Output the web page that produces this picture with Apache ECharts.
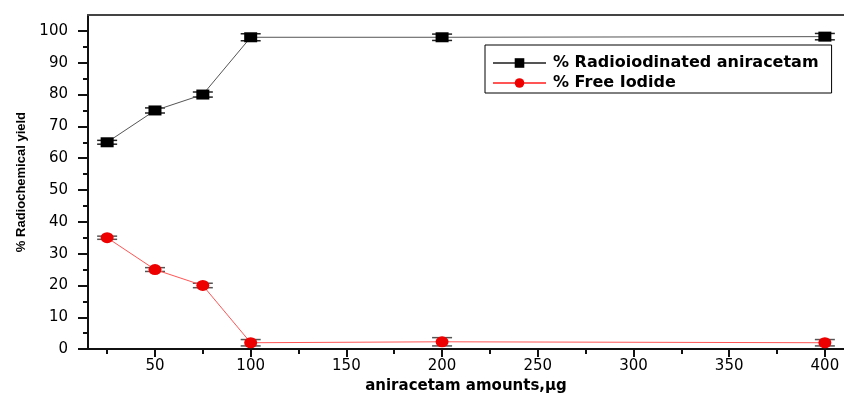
<!DOCTYPE html>
<html>
<head>
<meta charset="utf-8">
<script src="https://cdn.jsdelivr.net/npm/echarts@6/dist/echarts.min.js"></script>
<style>
  html, body { margin: 0; padding: 0; background: #fff; }
  #main { width: 844px; height: 399px; }
</style>
</head>
<body>
<div id="main"></div>
<script>
// aniracetam amount (µg)
var amounts = [25, 50, 75, 100, 200, 400];
// % radioiodinated aniracetam and its error
var labeled = [65, 75, 80, 98, 98, 98.2];
var labeledErr = [0.6, 0.8, 0.8, 1.1, 1.0, 1.0];
// % free iodide and its error
var freeIodide = [35, 25, 20, 2, 2.3, 2];
var freeErr = [0.5, 0.6, 0.7, 1.0, 1.3, 1.0];

var xMajor = [50, 100, 150, 200, 250, 300, 350, 400];
var xMinor = [25, 75, 125, 175, 225, 275, 325, 375];
var yMajor = [0, 10, 20, 30, 40, 50, 60, 70, 80, 90, 100];
var yMinor = [5, 15, 25, 35, 45, 55, 65, 75, 85, 95];

function pairs(xs, ys) {
  return xs.map(function (x, i) { return [x, ys[i]]; });
}
function errData(xs, ys, es) {
  return xs.map(function (x, i) { return [x, ys[i], es[i]]; });
}

function errorBar(color) {
  return function (params, api) {
    var x = api.value(0), y = api.value(1), e = api.value(2);
    var hi = api.coord([x, y + e]);
    var lo = api.coord([x, y - e]);
    var w = 10;
    var st = { stroke: color, lineWidth: 1.5 };
    return {
      type: 'group',
      children: [
        { type: 'line', shape: { x1: hi[0], y1: hi[1], x2: lo[0], y2: lo[1] }, style: st },
        { type: 'line', shape: { x1: hi[0] - w, y1: hi[1], x2: hi[0] + w, y2: hi[1] }, style: st },
        { type: 'line', shape: { x1: lo[0] - w, y1: lo[1], x2: lo[0] + w, y2: lo[1] }, style: st }
      ]
    };
  };
}

var font = 'DejaVu Sans';
var chart = echarts.init(document.getElementById('main'));
var option = {
  animation: false,
  backgroundColor: '#fff',
  grid: { left: 88, right: 0, top: 15, bottom: 49 },
  legend: {
    data: ['% Radioiodinated aniracetam', '% Free Iodide'],
    orient: 'vertical',
    left: 485,
    top: 45,
    padding: [9, 13, 1, 7],
    itemGap: 2,
    itemWidth: 53,
    itemHeight: 12,
    borderColor: '#000',
    borderWidth: 1,
    textStyle: { fontFamily: font, fontWeight: 'bold', fontSize: 16, lineHeight: 18, color: '#000', padding: [0, 0, 0, 2] }
  },
  xAxis: [
    {
      type: 'value', min: 15, max: 410, position: 'bottom',
      name: 'aniracetam amounts,µg', nameLocation: 'middle', nameGap: 28,
      nameTextStyle: { fontFamily: font, fontWeight: 'bold', fontSize: 15, color: '#000' },
      axisLine: { lineStyle: { color: '#111', width: 2 } },
      axisTick: { customValues: xMajor, length: 8, lineStyle: { color: '#111', width: 2 } },
      axisLabel: { customValues: xMajor, margin: 10, fontFamily: font, fontSize: 15, color: '#000' },
      splitLine: { show: false }
    },
    {
      type: 'value', min: 15, max: 410, position: 'bottom',
      axisLine: { show: false },
      axisTick: { customValues: xMinor, length: 5, lineStyle: { color: '#111', width: 2 } },
      axisLabel: { show: false },
      splitLine: { show: false }
    },
    {
      type: 'value', min: 15, max: 410, position: 'top',
      axisLine: { lineStyle: { color: '#444', width: 2 } },
      axisTick: { show: false },
      axisLabel: { show: false },
      splitLine: { show: false }
    }
  ],
  yAxis: [
    {
      type: 'value', min: 0, max: 105, position: 'left',
      name: '% Radiochemical yield', nameLocation: 'middle', nameGap: 60,
      nameTextStyle: { fontFamily: 'Liberation Sans', fontWeight: 'bold', fontSize: 13, color: '#000' },
      axisLine: { show: true, lineStyle: { color: '#111', width: 2 } },
      axisTick: { customValues: yMajor, length: 10, lineStyle: { color: '#111', width: 2 } },
      axisLabel: { customValues: yMajor, margin: 20, fontFamily: font, fontSize: 15, color: '#000' },
      splitLine: { show: false }
    },
    {
      type: 'value', min: 0, max: 105, position: 'left',
      axisLine: { show: false },
      axisTick: { customValues: yMinor, length: 5, lineStyle: { color: '#111', width: 2 } },
      axisLabel: { show: false },
      splitLine: { show: false }
    }
  ],
  series: [
    {
      name: 'labeledErr', type: 'custom', xAxisIndex: 0, yAxisIndex: 0, z: 3,
      renderItem: errorBar('#222'),
      data: errData(amounts, labeled, labeledErr)
    },
    {
      name: 'freeErr', type: 'custom', xAxisIndex: 0, yAxisIndex: 0, z: 3,
      renderItem: errorBar('#555'),
      data: errData(amounts, freeIodide, freeErr)
    },
    {
      name: '% Radioiodinated aniracetam', type: 'line', xAxisIndex: 0, yAxisIndex: 0, z: 4,
      data: pairs(amounts, labeled),
      symbol: 'rect', symbolSize: [13, 10],
      itemStyle: { color: '#000' },
      lineStyle: { color: '#555', width: 1 }
    },
    {
      name: '% Free Iodide', type: 'line', xAxisIndex: 0, yAxisIndex: 0, z: 4,
      data: pairs(amounts, freeIodide),
      symbol: 'circle', symbolSize: [13, 11],
      itemStyle: { color: '#ee0000' },
      lineStyle: { color: '#ff5555', width: 1 }
    }
  ]
};
chart.setOption(option);
</script>
</body>
</html>
